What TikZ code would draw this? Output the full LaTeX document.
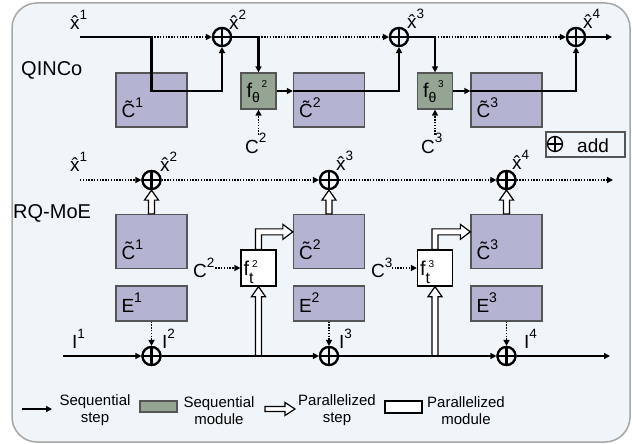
\documentclass[tikz,border=0pt]{standalone}
\usepackage{fontspec}
\setmainfont{Liberation Sans}
\usetikzlibrary{arrows.meta,calc}

\definecolor{bgfill}{HTML}{F0F5FA}
\definecolor{bgline}{HTML}{A6A6A6}
\definecolor{cbfill}{HTML}{B4B4D2}
\definecolor{modgreen}{HTML}{94A594}
\definecolor{boxline}{HTML}{555555}

\newcommand\fs[1]{\fontsize{#1}{#1}\selectfont}
\newcommand\supr[1]{\raisebox{10pt}{\fs{13.5}#1}}
\newcommand\supb[1]{\raisebox{10pt}{\fs{14}#1}}
\newcommand\xh{\^{x}}

% vertical hollow (parallel) arrow from #1 up to #2
\newcommand\hollowv[2]{%
  \filldraw[hollow] let \p1=(#1), \p2=(#2) in
    (\x1-3pt,\y1) -- (\x1-3pt,\y2-10pt) -- (\x1-7pt,\y2-10pt) -- (\x1,\y2)
    -- (\x1+7pt,\y2-10pt) -- (\x1+3pt,\y2-10pt) -- (\x1+3pt,\y1) -- cycle;}
% hollow arrow going up from #1, then right to #2
\newcommand\hollowbent[2]{%
  \filldraw[hollow] let \p1=(#1), \p2=(#2) in
    (\x1-3pt,\y1) -- (\x1-3pt,\y2+3pt) -- (\x2-10pt,\y2+3pt) -- (\x2-10pt,\y2+7.5pt)
    -- (\x2,\y2) -- (\x2-10pt,\y2-7.5pt) -- (\x2-10pt,\y2-3pt) -- (\x1+3pt,\y2-3pt)
    -- (\x1+3pt,\y1) -- cycle;}

\begin{document}
\begin{tikzpicture}[x=1pt,y=-1pt,font=\fs{19},
  cbox/.style={draw=boxline,line width=1.3pt,fill=cbfill,minimum width=71pt,minimum height=54pt,inner sep=0pt},
  ebox/.style={cbox,minimum height=35pt},
  fgreen/.style={draw=boxline,line width=1.3pt,fill=modgreen,minimum width=35pt,minimum height=36pt,inner sep=0pt},
  fwhite/.style={draw=black,line width=1.3pt,fill=white,minimum width=35pt,minimum height=36pt,inner sep=0pt},
  addop/.style={circle,draw=black,fill=bgfill,line width=2.2pt,minimum size=18pt,inner sep=0pt,
    path picture={\draw[line width=2.2pt]
      (path picture bounding box.north) -- (path picture bounding box.south)
      (path picture bounding box.west) -- (path picture bounding box.east);}},
  seq/.style={line width=2.5pt},
  tipS/.style={-{Triangle[length=6pt,width=6pt]}},
  dotl/.style={line width=1.4pt,dash pattern=on 1.4pt off 1.4pt,-{Triangle[length=6pt,width=6pt]}},
  hollow/.style={draw=black,fill=white,line width=1.2pt,line join=miter},
  lbl/.style={inner sep=0pt,anchor=base west},
  lgd/.style={font=\fontsize{15}{17}\selectfont,align=center,inner sep=0pt}]

\useasboundingbox (0,0) rectangle (632,444);
\draw[draw=bgline,fill=bgfill,line width=1.5pt,rounded corners=25pt] (12,3) rectangle (630,442);

% ---------------- QINCo ----------------
\node[font=\fs{20},lbl] (qinco) at (21,76) {QINCo};
\node[cbox] (c1) at (151.5,100) {};
\node[cbox] (c2) at (329,100) {};
\node[cbox] (c3) at (506.5,100) {};
\node[fgreen] (f2) at (258.5,91) {};
\node[fgreen] (f3) at (435,91) {};
\node[addop] (a1) at (222,37) {};
\node[addop] (a2) at (399,37) {};
\node[addop] (a3) at (576,37) {};

\node[lbl] at ($(c1.south west)+(6,-10)$) {\~{C}\supb{1}};
\node[lbl] at ($(c2.south west)+(6,-10)$) {\~{C}\supb{2}};
\node[lbl] at ($(c3.south west)+(6,-10)$) {\~{C}\supb{3}};
\node[lbl,font=\fs{20}] at ($(f2.west)+(6,7)$) {f\raisebox{-5pt}{\fs{14}θ}\raisebox{10pt}{\fs{10}\,2}};
\node[lbl,font=\fs{20}] at ($(f3.west)+(6,7)$) {f\raisebox{-5pt}{\fs{14}θ}\raisebox{10pt}{\fs{10}\,3}};

\node[lbl] (lx1) at (70,30) {\xh\supr{1}};
\node[lbl] (lx2) at (229,30) {\xh\supr{2}};
\node[lbl] (lx3) at (407,29) {\xh\supr{3}};
\node[lbl] (lx4) at (583,29) {\xh\supr{4}};
\node[lbl] (lc2) at (245,153) {C\supr{2}};
\node[lbl] (lc3) at (421,153) {C\supr{3}};

\coordinate (in1) at (80,37);
\coordinate (k1) at (151.5,91);
\coordinate (out1) at (612,37);
\draw[seq,tipS] (in1) -| (k1) -| (a1.south);
\draw[dotl] (k1 |- in1) -- (a1.west);
\draw[seq,tipS] (a1.east) -| (f2.north);
\draw[dotl] (f2.north |- a1.east) -- (a2.west);
\draw[seq,tipS] (f2.east) -- (f2.east -| c2.west);
\draw[seq,tipS] (f2.east -| c2.west) -| (a2.south);
\draw[dotl] ($(f2.south)+(0,25)$) -- (f2.south);
\draw[seq,tipS] (a2.east) -| (f3.north);
\draw[dotl] (f3.north |- a2.east) -- (a3.west);
\draw[seq,tipS] (f3.east) -- (f3.east -| c3.west);
\draw[seq,tipS] (f3.east -| c3.west) -| (a3.south);
\draw[dotl] ($(f3.south)+(0,25)$) -- (f3.south);
\draw[seq,tipS] (a3.east) -- (out1);
\node[addop] at (a1) {};
\node[addop] at (a2) {};
\node[addop] at (a3) {};

% key for the add operator
\node[draw=boxline,line width=1.2pt,minimum width=79pt,minimum height=25pt,inner sep=0pt] (addkey) at (585.5,144.5) {};
\node[circle,draw=black,line width=1.3pt,minimum size=15pt,inner sep=0pt,
  path picture={\draw[line width=1.3pt]
    (path picture bounding box.north) -- (path picture bounding box.south)
    (path picture bounding box.west) -- (path picture bounding box.east);}] (addsym) at (555,144) {};
\node[lbl,font=\fs{19}] at (577,152) {add};

% ---------------- RQ-MoE ----------------
\node[font=\fs{20},lbl] (rqmoe) at (13,218) {RQ-MoE};
\node[cbox] (d1) at (151.5,241.5) {};
\node[cbox] (d2) at (329,241.5) {};
\node[cbox] (d3) at (506.5,241.5) {};
\node[ebox] (e1) at (151.5,303.5) {};
\node[ebox] (e2) at (329,303.5) {};
\node[ebox] (e3) at (506.5,303.5) {};
\node[fwhite] (g2) at (258.5,268) {};
\node[fwhite] (g3) at (435,268) {};
\node[addop] (b1) at (151.5,180) {};
\node[addop] (b2) at (329,180) {};
\node[addop] (b3) at (506.5,180) {};
\node[addop] (i1) at (151.5,356) {};
\node[addop] (i2) at (329,356) {};
\node[addop] (i3) at (506.5,356) {};

\node[lbl] at ($(d1.south west)+(6,-10)$) {\~{C}\supb{1}};
\node[lbl] at ($(d2.south west)+(6,-10)$) {\~{C}\supb{2}};
\node[lbl] at ($(d3.south west)+(6,-10)$) {\~{C}\supb{3}};
\node[lbl] at ($(e1.south west)+(6,-9)$) {E\supb{1}};
\node[lbl] at ($(e2.south west)+(6,-9)$) {E\supb{2}};
\node[lbl] at ($(e3.south west)+(6,-9)$) {E\supb{3}};
\node[lbl,font=\fs{20}] at ($(g2.west)+(3,7)$) {f\rlap{\raisebox{-8pt}{\fs{16}t}}\raisebox{8pt}{\fs{10}\hspace{3pt}2}};
\node[lbl,font=\fs{20}] at ($(g3.west)+(3,7)$) {f\rlap{\raisebox{-8pt}{\fs{16}t}}\raisebox{8pt}{\fs{10}\hspace{3pt}3}};

\node[lbl] (ly1) at (70,171) {\xh\supr{1}};
\node[lbl] (ly2) at (160,171) {\xh\supr{2}};
\node[lbl] (ly3) at (336,170) {\xh\supr{3}};
\node[lbl] (ly4) at (512,169) {\xh\supr{4}};
\node[lbl] (ld2) at (193,277) {C\supr{2}};
\node[lbl] (ld3) at (371,277) {C\supr{3}};
\node[lbl] (li1) at (72,348) {I\supr{1}};
\node[lbl] (li2) at (162,348) {I\supr{2}};
\node[lbl] (li3) at (339,348) {I\supr{3}};
\node[lbl] (li4) at (524,348) {I\supr{4}};

\coordinate (in2) at (80,180);
\coordinate (out2) at (613,180);
\coordinate (in3) at (63,356);
\coordinate (out3) at (610,356);
\coordinate (t2) at ($(d2.north west)+(0,18)$);
\coordinate (t3) at ($(d3.north west)+(0,18)$);

\draw[dotl] (in2) -- (b1.west);
\draw[dotl] (b1.east) -- (b2.west);
\draw[dotl] (b2.east) -- (b3.west);
\draw[dotl] (b3.east) -- (out2);

\hollowv{d1.north}{b1.south}
\hollowv{d2.north}{b2.south}
\hollowv{d3.north}{b3.south}
\hollowv{g2.south |- i1.center}{g2.south}
\hollowv{g3.south |- i1.center}{g3.south}
\hollowbent{g2.north}{t2}
\hollowbent{g3.north}{t3}

\draw[dotl] ($(g2.west)+(-25,0)$) -- (g2.west);
\draw[dotl] ($(g3.west)+(-25,0)$) -- (g3.west);
\draw[dotl] (e1.south) -- (i1.north);
\draw[dotl] (e2.south) -- (i2.north);
\draw[dotl] (e3.south) -- (i3.north);

\draw[seq,tipS] (in3) -- (i1.west);
\draw[seq,tipS] (i1.east) -- (i2.west);
\draw[seq,tipS] (i2.east) -- (i3.west);
\draw[seq,tipS] (i3.east) -- (out3);
\node[addop] at (b1) {};
\node[addop] at (b2) {};
\node[addop] at (b3) {};
\node[addop] at (i1) {};
\node[addop] at (i2) {};
\node[addop] at (i3) {};

% ---------------- legend ----------------
\coordinate (ls1) at (22,409);
\coordinate (ls2) at (52,409);
\draw[line width=2pt,tipS] (ls1) -- (ls2);
\node[lgd] at (95,410.5) {Sequential\\step};
\node[fgreen,minimum width=37pt,minimum height=11pt] (lgm) at (158.5,406.5) {};
\node[lgd] at (219,410.5) {Sequential\\module};
\filldraw[hollow] (265,406.5) -- (285,406.5) -- (285,402.5) -- (295,409) -- (285,415.5) -- (285,411.5) -- (265,411.5) -- cycle;
\node[lgd] at (337,410.5) {Parallelized\\step};
\node[fwhite,minimum width=37pt,minimum height=12pt] (lpm) at (403.5,407) {};
\node[lgd] at (466,410.5) {Parallelized\\module};
\end{tikzpicture}
\end{document}
